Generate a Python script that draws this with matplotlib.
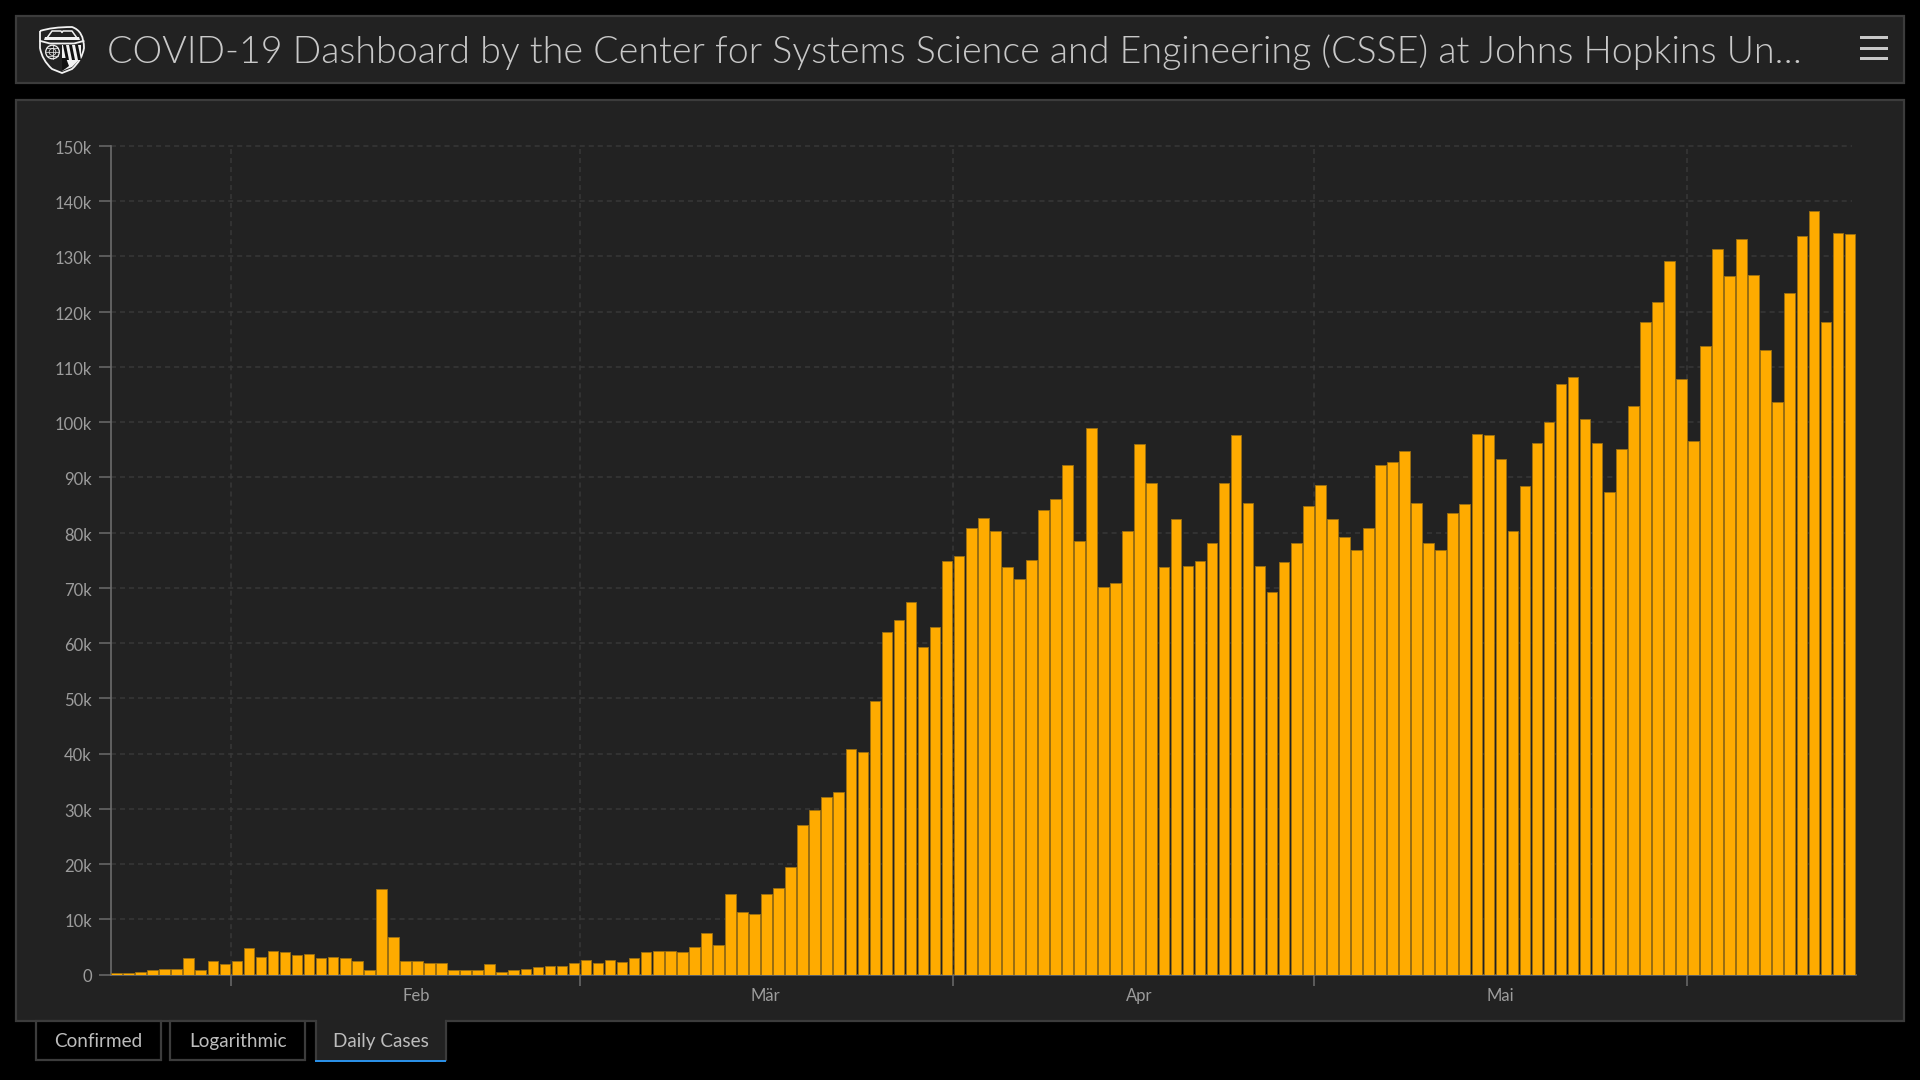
"""
JHU CSSE dashboard, daily cases panel
"""

import numpy as np
import pandas as pd
import matplotlib
matplotlib.use('Agg')
import matplotlib.pyplot as plt
import matplotlib.dates as mdates
from matplotlib.patches import Rectangle, Polygon, Circle, PathPatch
from matplotlib.path import Path
from matplotlib.transforms import ScaledTranslation

plt.rcParams['font.family'] = ['Lato', 'DejaVu Sans']

W, H = 1920, 1080

title = 'COVID-19 Dashboard by the Center for Systems Science and Engineering (CSSE) at Johns Hopkins Un…'
tab_names = ['Confirmed', 'Logarithmic', 'Daily Cases']

first_day = '2020-01-22'
daily_cases = [
    280, 280, 480, 780, 1000, 1000, 2950, 780, 2400, 1870,
    2400, 4800, 3200, 4280, 4000, 3500, 3740, 2950, 3200, 2950,
    2400, 780, 15400, 6750, 2400, 2400, 2100, 2100, 780, 780,
    780, 1870, 480, 780, 1000, 1300, 1570, 1570, 2050, 2600,
    2050, 2600, 2350, 2900, 4000, 4200, 4200, 4000, 5050, 7480,
    5300, 14530, 11280, 11030, 14530, 15600, 19400, 27000, 29700, 32200,
    33000, 40900, 40300, 49600, 62000, 64200, 67500, 59300, 62900, 74800,
    75700, 80800, 82700, 80300, 73700, 71600, 75100, 84100, 86000, 92200,
    78400, 99000, 70200, 70800, 80300, 96000, 88900, 73700, 82400, 74000,
    74800, 78100, 88900, 97600, 85400, 74000, 69200, 74600, 78100, 84900,
    88700, 82400, 79200, 76800, 80800, 92200, 92700, 94700, 85400, 78100,
    76800, 83500, 85100, 97900, 97600, 93300, 80300, 88400, 96300, 100100,
    106900, 108200, 100600, 96300, 87400, 95200, 103000, 118200, 121800, 129100,
    107900, 96500, 113700, 131300, 126400, 133100, 126600, 113100, 103600, 123400,
    133700, 138300, 118200, 134200, 134000,
]
y_ticks = list(range(0, 160000, 10000))
y_labels = ['0'] + [f'{v // 1000}k' for v in y_ticks[1:]]
month_starts = ['2020-02-01', '2020-03-01', '2020-04-01', '2020-05-01', '2020-06-01']
month_names = ['Feb', 'Mär', 'Apr', 'Mai']
month_mids = ['2020-02-16 10:00', '2020-03-16 10:00', '2020-04-16 10:00', '2020-05-16 10:00']

BG = '#000000'
PANEL = '#222222'
BORDER = '#3c3c3c'
GRID = '#383838'
AXIS = '#6c6c6c'
TICK_TEXT = '#9c9c9c'
BAR = '#ffab00'
BAR_EDGE = '#9c7012'
LIGHT = '#c8c8c8'
DASH = (0, (3.3, 2.6))


def draw_logo(bg):
    """JHU shield, rough version"""
    white = '#f2f2f2'
    verts = [(40, 31), (52, 27), (72, 27), (84, 31), (84, 48), (82, 60), (72, 69), (62, 73),
             (52, 69), (42, 60), (40, 48), (40, 31)]
    codes = [Path.MOVETO, Path.CURVE3, Path.LINETO, Path.CURVE3, Path.LINETO, Path.CURVE3,
             Path.LINETO, Path.LINETO, Path.LINETO, Path.CURVE3, Path.LINETO, Path.LINETO]
    bg.add_patch(PathPatch(Path(verts, codes), fc=PANEL, ec=white, lw=1.3))
    bg.plot([40.5, 50, 74, 83.5], [41, 43.5, 43.5, 41], color=white, lw=1.3)
    # open book
    bg.plot([47, 52, 61, 62, 63, 72, 77], [38, 31, 31, 32.5, 31, 31, 38], color=white, lw=1.1)
    bg.add_patch(Polygon([(45, 37), (79, 37), (80, 40), (44, 40)], fc=white, ec='none'))
    # globe
    bg.add_patch(Circle((52.5, 52), 6.8, fc=PANEL, ec=white, lw=0.9))
    bg.plot([45.7, 59.3], [52, 52], color=white, lw=0.5)
    bg.plot([47, 58], [48, 48], color=white, lw=0.5)
    bg.plot([47, 58], [56, 56], color=white, lw=0.5)
    bg.plot([52.5, 52.5], [45.2, 58.8], color=white, lw=0.5)
    bg.add_patch(Circle((52.5, 52), 3.4, fc='none', ec=white, lw=0.5))
    # flag quarter
    bg.add_patch(Polygon([(62, 45), (81, 45), (81, 58), (72, 67), (62, 71)], fc=white, ec='none'))
    for x0 in (63, 69, 75):
        bg.add_patch(Polygon([(x0, 45), (x0 + 3, 45), (x0 + 6, 60), (x0 + 3, 60)], fc='#111111', ec='none'))
    bg.add_patch(Polygon([(62, 58), (66, 58), (69, 66), (65, 69), (62, 71)], fc='#111111', ec='none'))


def draw_chrome(bg):
    """Header bar, chart panel and the tabs"""
    bg.add_patch(Rectangle((16, 16), 1888, 67, fc=PANEL, ec=BORDER, lw=1.6))
    bg.add_patch(Rectangle((16, 100), 1888, 921, fc=PANEL, ec=BORDER, lw=1.6))
    draw_logo(bg)
    bg.text(107, 52, title, color=LIGHT, fontsize=27.0, fontweight=300, va='center', ha='left')
    for y in (37.5, 48.5, 58.5):
        bg.add_patch(Rectangle((1860, y - 1.5), 28, 3, fc=LIGHT, ec='none'))

    # tabs
    bg.add_patch(Rectangle((36, 1021), 125, 39, fc=BG, ec=BORDER, lw=1.6))
    bg.add_patch(Rectangle((170, 1021), 135, 39, fc=BG, ec=BORDER, lw=1.6))
    bg.add_patch(Rectangle((316, 1018), 129, 42, fc=PANEL, ec='none', zorder=3))
    bg.plot([315.5, 315.5], [1021, 1060], color=BORDER, lw=1.6, zorder=3)
    bg.plot([445.5, 445.5], [1021, 1060], color=BORDER, lw=1.6, zorder=3)
    bg.add_patch(Rectangle((315, 1059.5), 131, 2.5, fc='#2a8fe6', ec='none', zorder=4))
    for name, cx in zip(tab_names, (98, 238, 381)):
        bg.text(cx, 1041.5, name, color='#bdbdbd', fontsize=13.6, va='center', ha='center', zorder=5)


fig = plt.figure(figsize=(W / 100, H / 100), dpi=100, facecolor=BG)

bg = fig.add_axes([0, 0, 1, 1])
bg.set_xlim(0, W)
bg.set_ylim(H, 0)
bg.axis('off')
draw_chrome(bg)

ax = fig.add_axes([110.5 / W, 1 - 974.5 / H, (1856 - 110.5) / W, (974.5 - 146) / H])
ax.patch.set_alpha(0)

dates = pd.date_range(first_day, periods=len(daily_cases))
left = mdates.date2num(dates) + 0.06
ax.bar(left, daily_cases, width=0.88, align='edge', color=BAR, edgecolor=BAR_EDGE, linewidth=0.6, zorder=5)

month_x = mdates.date2num(pd.to_datetime(month_starts))
ax.set_xlim(mdates.date2num(dates[0]), mdates.date2num(dates[-1]) + 1)
ax.set_ylim(0, 150000)

# grid stops a little short of the right side
trans = ax.get_yaxis_transform()
for y in y_ticks[1:]:
    ax.plot([0, 0.9977], [y, y], transform=trans, color=GRID, lw=1.1, ls=DASH, zorder=1, clip_on=False)
ax.vlines(month_x, 149500, 0, color=GRID, lw=1.1, ls=DASH, zorder=1)

ax.set_yticks(y_ticks)
ax.set_yticklabels(y_labels)
ax.set_xticks(month_x)
ax.set_xticklabels([])
ax.set_xticks(mdates.date2num(pd.to_datetime(month_mids)), month_names, minor=True)
ax.tick_params(axis='y', length=9, width=1.1, color=AXIS, labelcolor=TICK_TEXT, labelsize=12, pad=4.5)
ax.tick_params(axis='x', which='major', length=8, width=1.1, color=AXIS)
ax.tick_params(axis='x', which='minor', length=0, labelcolor=TICK_TEXT, labelsize=12, pad=9.5)

# tick labels sit a touch below their ticks
nudge = ScaledTranslation(0, -1 / 72, fig.dpi_scale_trans)
for label in ax.get_yticklabels():
    label.set_transform(label.get_transform() + nudge)

for side in ('top', 'right'):
    ax.spines[side].set_visible(False)
for side in ('left', 'bottom'):
    ax.spines[side].set_color(AXIS)
    ax.spines[side].set_linewidth(1.2)
    ax.spines[side].set_zorder(4)

fig.savefig('out.png', dpi=100, facecolor=BG)
